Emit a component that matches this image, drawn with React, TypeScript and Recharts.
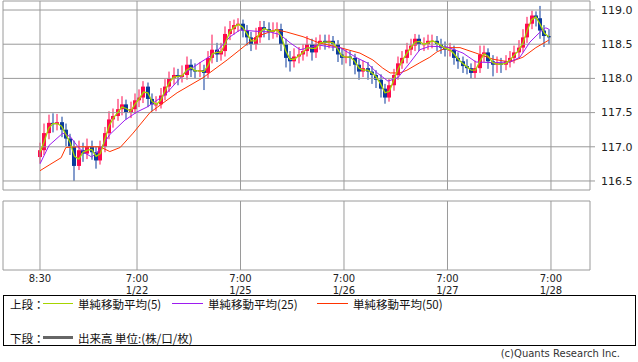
import { Bar, ComposedChart, Line, ReferenceArea, ReferenceLine, XAxis, YAxis } from 'recharts'

// hourly bars, hour 0 = 1/21 8:30
const opens = [
  116.85, 116.95, 117.2, 117.35, 117.33, 117.36, 117.25, 117.12, 117.0, 116.72,
  116.95, 116.9, 117.0, 116.92, 116.8, 117.0, 117.2, 117.4, 117.45, 117.55,
  117.62, 117.5, 117.55, 117.68, 117.72, 117.88, 117.7, 117.62, 117.62, 117.75,
  117.88, 118.0, 118.05, 118.02, 118.05, 118.2, 118.12, 118.1, 118.12, 118.08,
  118.3, 118.42, 118.35, 118.4, 118.65, 118.72, 118.78, 118.8, 118.7, 118.6,
  118.5, 118.6, 118.75, 118.72, 118.68, 118.7, 118.72, 118.5, 118.3, 118.25,
  118.32, 118.35, 118.4, 118.5, 118.38, 118.5, 118.55, 118.52, 118.55, 118.5,
  118.35, 118.3, 118.32, 118.3, 118.2, 118.1, 118.15, 118.1, 118.05, 117.98,
  117.85, 117.72, 117.9, 118.05, 118.22, 118.3, 118.42, 118.48, 118.58, 118.5,
  118.5, 118.55, 118.55, 118.5, 118.45, 118.42, 118.42, 118.3, 118.25, 118.18,
  118.15, 118.08, 118.15, 118.35, 118.38, 118.25, 118.2, 118.22, 118.2, 118.25,
  118.3, 118.38, 118.45, 118.6, 118.8, 118.92, 118.88, 118.7, 118.62,
]
const highs = [
  117.06, 117.34, 117.47, 117.49, 117.48, 117.44, 117.34, 117.19, 117.09, 117.09,
  117.06, 117.12, 117.09, 117.0, 117.09, 117.29, 117.52, 117.56, 117.7, 117.74,
  117.69, 117.66, 117.78, 117.84, 117.96, 117.94, 117.78, 117.74, 117.86, 117.99,
  118.1, 118.16, 118.14, 118.19, 118.32, 118.28, 118.22, 118.24, 118.2, 118.4,
  118.64, 118.52, 118.52, 118.76, 118.84, 118.86, 118.88, 118.86, 118.78, 118.68,
  118.74, 118.84, 118.84, 118.82, 118.82, 118.82, 118.8, 118.58, 118.4, 118.44,
  118.46, 118.5, 118.62, 118.58, 118.6, 118.64, 118.64, 118.64, 118.62, 118.56,
  118.44, 118.42, 118.4, 118.36, 118.28, 118.26, 118.24, 118.18, 118.12, 118.06,
  117.92, 117.99, 118.14, 118.32, 118.4, 118.52, 118.58, 118.65, 118.64, 118.6,
  118.64, 118.64, 118.62, 118.58, 118.54, 118.52, 118.48, 118.38, 118.32, 118.28,
  118.22, 118.26, 118.48, 118.48, 118.44, 118.34, 118.32, 118.3, 118.34, 118.4,
  118.48, 118.56, 118.72, 118.9, 118.99, 118.98, 119.06, 118.78, 118.72,
]
const lows = [
  116.76, 116.88, 117.11, 117.21, 117.24, 117.14, 117.01, 116.88, 116.5, 116.66,
  116.78, 116.82, 116.81, 116.68, 116.74, 116.92, 117.11, 117.28, 117.38, 117.46,
  117.4, 117.42, 117.48, 117.58, 117.64, 117.58, 117.52, 117.52, 117.56, 117.68,
  117.8, 117.91, 117.9, 117.94, 117.98, 118.02, 118.0, 118.02, 117.83, 118.0,
  118.22, 118.24, 118.26, 118.32, 118.56, 118.64, 118.68, 118.6, 118.48, 118.4,
  118.42, 118.52, 118.6, 118.56, 118.58, 118.6, 118.4, 118.16, 118.1, 118.16,
  118.22, 118.26, 118.32, 118.26, 118.3, 118.42, 118.42, 118.44, 118.4, 118.24,
  118.2, 118.22, 118.18, 118.06, 117.98, 118.02, 117.98, 117.92, 117.86, 117.72,
  117.63, 117.66, 117.82, 117.98, 118.14, 118.22, 118.34, 118.4, 118.4, 118.4,
  118.42, 118.44, 118.4, 118.36, 118.32, 118.32, 118.2, 118.14, 118.08, 118.06,
  118.0, 118.0, 118.08, 118.24, 118.14, 118.03, 118.08, 118.08, 118.12, 118.16,
  118.22, 118.3, 118.38, 118.52, 118.72, 118.76, 118.58, 118.46, 118.5,
]
const closes = [
  116.95, 117.2, 117.35, 117.33, 117.36, 117.25, 117.12, 117.0, 116.72, 116.95,
  116.9, 117.0, 116.92, 116.8, 117.0, 117.2, 117.4, 117.45, 117.55, 117.62,
  117.5, 117.55, 117.68, 117.72, 117.88, 117.7, 117.62, 117.62, 117.75, 117.88,
  118.0, 118.05, 118.02, 118.05, 118.2, 118.12, 118.1, 118.12, 118.08, 118.3,
  118.42, 118.35, 118.4, 118.65, 118.72, 118.78, 118.8, 118.7, 118.6, 118.5,
  118.6, 118.75, 118.72, 118.68, 118.7, 118.72, 118.5, 118.3, 118.25, 118.32,
  118.35, 118.4, 118.5, 118.38, 118.5, 118.55, 118.52, 118.55, 118.5, 118.35,
  118.3, 118.32, 118.3, 118.2, 118.1, 118.15, 118.1, 118.05, 117.98, 117.85,
  117.72, 117.9, 118.05, 118.22, 118.3, 118.42, 118.48, 118.58, 118.5, 118.5,
  118.55, 118.55, 118.5, 118.45, 118.42, 118.42, 118.3, 118.25, 118.18, 118.15,
  118.08, 118.15, 118.35, 118.38, 118.25, 118.2, 118.22, 118.2, 118.25, 118.3,
  118.38, 118.45, 118.6, 118.8, 118.92, 118.88, 118.7, 118.62, 118.6,
]
const sma5 = [
  116.92, 117.08, 117.27, 117.34, 117.34, 117.3, 117.18, 117.06, 116.86, 116.82,
  116.92, 116.95, 116.96, 116.86, 116.9, 117.1, 117.3, 117.42, 117.5, 117.58,
  117.56, 117.52, 117.62, 117.7, 117.8, 117.79, 117.66, 117.62, 117.68, 117.82,
  117.94, 118.02, 118.03, 118.04, 118.12, 118.16, 118.11, 118.11, 118.1, 118.19,
  118.36, 118.38, 118.38, 118.52, 118.68, 118.75, 118.79, 118.75, 118.65, 118.55,
  118.55, 118.67, 118.73, 118.7, 118.69, 118.71, 118.61, 118.4, 118.28, 118.28,
  118.33, 118.38, 118.45, 118.44, 118.44, 118.52, 118.53, 118.53, 118.52, 118.43,
  118.33, 118.31, 118.31, 118.25, 118.15, 118.12, 118.12, 118.08, 118.02, 117.92,
  117.79, 117.81, 117.97, 118.13, 118.26, 118.36, 118.45, 118.53, 118.54, 118.5,
  118.52, 118.55, 118.52, 118.48, 118.44, 118.42, 118.36, 118.28, 118.22, 118.17,
  118.12, 118.12, 118.25, 118.36, 118.32, 118.23, 118.21, 118.21, 118.22, 118.27,
  118.34, 118.41, 118.52, 118.7, 118.86, 118.9, 118.79, 118.66, 118.61,
]

const sma25Hours = [
  0, 2.1, 5.3, 7, 8.8, 10.4, 12, 13.9, 16.2, 19.7, 22.5, 24.8, 29, 33.6, 37.1, 40.6,
  44.1, 46.4, 49.9, 53.3, 55.7, 58, 60.3, 62.6, 64.5, 67.3, 69.6, 73.5, 75.8, 78.2,
  80.7, 83, 85.8, 88.1, 90.4, 94.4, 98.1, 101.1, 105.1, 109, 111.3, 113.6, 116, 117.3, 118,
]
const sma25Values = [
  116.75, 117.02, 117.2, 117.15, 117.0, 116.91, 116.85, 116.96, 117.18, 117.39, 117.51,
  117.58, 117.76, 118.08, 118.23, 118.37, 118.61, 118.71, 118.69, 118.68, 118.64, 118.52,
  118.42, 118.45, 118.49, 118.46, 118.45, 118.3, 118.23, 118.08, 117.96, 118.01, 118.23,
  118.42, 118.47, 118.46, 118.37, 118.24, 118.23, 118.24, 118.31, 118.53, 118.68, 118.74,
  118.72,
]
const sma50Hours = [
  0, 2.3, 4.9, 6, 9.3, 13.9, 16.2, 18.6, 21.6, 25.5, 31.8, 37.8, 43.4, 46.4, 50.1, 54.7,
  57.1, 61, 64.7, 69.6, 74.2, 77.2, 79.5, 81.2, 83.5, 85.1, 88.1, 90.4, 92.1, 94.4, 97.4,
  101.1, 105.1, 109, 112, 115, 118,
]
const sma50Values = [
  116.65, 116.74, 116.84, 116.99, 117.0, 117.0, 116.93, 116.99, 117.2, 117.5, 117.79,
  118.01, 118.27, 118.42, 118.61, 118.71, 118.68, 118.61, 118.52, 118.45, 118.37, 118.27,
  118.15, 118.08, 118.08, 118.12, 118.23, 118.31, 118.39, 118.45, 118.45, 118.37, 118.28,
  118.24, 118.31, 118.45, 118.56,
]

const dayTicks = [0, 22.5, 46.5, 70.5, 94.5, 118.5]
const timeLabels = ['8:30', '7:00', '7:00', '7:00', '7:00', '7:00']
const dateLabels = ['', '1/22', '1/25', '1/26', '1/27', '1/28']
const priceTicks = [116.5, 117.0, 117.5, 118.0, 118.5, 119.0]
// volume panel is empty in the source chart
const volumes = [0, 0, 0, 0, 0, 0]

const X_DOMAIN: [number, number] = [-8.58, 127.55]
const Y_DOMAIN: [number, number] = [116.368, 119.132]
const GRID = '#9a9a9a'
const UP = '#ff0a4e'
const DOWN = '#0a3a9c'
const BODY_W = 4

const bars = closes.map((c, i) => ({
  t: i,
  open: opens[i],
  high: highs[i],
  low: lows[i],
  close: c,
  range: [lows[i], highs[i]],
  sma5: sma5[i],
}))
const sma25Data = sma25Hours.map((t, i) => ({ t, v: sma25Values[i] }))
const sma50Data = sma50Hours.map((t, i) => ({ t, v: sma50Values[i] }))
const volData = dayTicks.map((t, i) => ({ t, vol: volumes[i] }))

const Candle = (props: any) => {
  const { x, y, width, height, payload } = props
  if (!payload || typeof y !== 'number') return null
  const top = Math.min(y, y + height)
  const h = Math.abs(height)
  const span = payload.high - payload.low || 1
  const k = h / span
  const bodyTop = top + (payload.high - Math.max(payload.open, payload.close)) * k
  const bodyH = Math.max(1, Math.abs(payload.open - payload.close) * k)
  const color = payload.close >= payload.open ? UP : DOWN
  const cx = Math.round(x + (width || 0) / 2)
  return (
    <g>
      <rect x={cx - 0.5} y={top} width={1} height={h} fill={color} />
      <rect x={cx - BODY_W / 2} y={bodyTop} width={BODY_W} height={bodyH} fill={color} />
    </g>
  )
}

const DayTick = (props: any) => {
  const { x, y, index } = props
  return (
    <g fontFamily="DejaVu Sans, sans-serif" fontSize={10} fill="#222">
      <text x={x} y={y + 12} textAnchor="middle">{timeLabels[index]}</text>
      <text x={x} y={y + 24} textAnchor="middle">{dateLabels[index]}</text>
    </g>
  )
}

const legendFont = '"Noto Sans CJK JP", sans-serif'

const App = () => {
  return (
    <div style={{ position: 'absolute', left: 0, top: 0, width: 638, height: 362, background: '#fff' }}>
      <div style={{ position: 'absolute', left: 0, top: 0 }}>
        <ComposedChart width={638} height={192} data={bars} margin={{ top: 1, right: 0, bottom: 2, left: 3 }}>
          <XAxis dataKey="t" type="number" domain={X_DOMAIN} allowDataOverflow hide ticks={dayTicks} />
          <YAxis
            orientation="right"
            type="number"
            domain={Y_DOMAIN}
            allowDataOverflow
            ticks={priceTicks}
            width={48}
            axisLine={false}
            tickLine={{ stroke: GRID }}
            tickSize={5}
            tickMargin={6}
            tickFormatter={(v: number) => v.toFixed(1)}
            tick={{ fontSize: 11, fill: '#222', fontFamily: 'DejaVu Sans, sans-serif' }}
          />
          <ReferenceArea x1={X_DOMAIN[0]} x2={X_DOMAIN[1]} y1={Y_DOMAIN[0]} y2={Y_DOMAIN[1]} fill="none" stroke={GRID} fillOpacity={0} />
          {priceTicks.map((p) => (
            <ReferenceLine key={'h' + p} y={p} stroke={GRID} />
          ))}
          {dayTicks.map((t) => (
            <ReferenceLine key={'v' + t} x={t} stroke={GRID} />
          ))}
          <Bar dataKey="range" barSize={4} shape={<Candle />} isAnimationActive={false} />
          <Line data={sma50Data} dataKey="v" type="linear" stroke="#ff3300" strokeWidth={1} dot={false} isAnimationActive={false} />
          <Line data={sma25Data} dataKey="v" type="linear" stroke="#9d1cf0" strokeWidth={1} dot={false} isAnimationActive={false} />
          <Line dataKey="sma5" type="linear" stroke="#a6d400" strokeWidth={1.3} dot={false} isAnimationActive={false} />
        </ComposedChart>
      </div>
      <div style={{ position: 'absolute', left: 0, top: 192 }}>
        <ComposedChart width={638} height={105} data={volData} margin={{ top: 9, right: 0, bottom: 0, left: 3 }}>
          <XAxis
            dataKey="t"
            type="number"
            domain={X_DOMAIN}
            allowDataOverflow
            ticks={dayTicks}
            height={27}
            axisLine={false}
            tickLine={false}
            tickSize={0}
            tickMargin={0}
            tick={<DayTick />}
            interval={0}
          />
          <YAxis orientation="right" type="number" domain={[0, 1]} allowDataOverflow width={48} tick={false} axisLine={false} tickLine={false} />
          <Line dataKey="vol" stroke="none" dot={false} isAnimationActive={false} />
          <ReferenceArea x1={X_DOMAIN[0]} x2={X_DOMAIN[1]} y1={0} y2={1} fill="none" stroke={GRID} fillOpacity={0} ifOverflow="visible" />
          {dayTicks.map((t) => (
            <ReferenceLine key={'lv' + t} x={t} stroke={GRID} ifOverflow="visible" />
          ))}
        </ComposedChart>
      </div>
      <div
        style={{
          position: 'absolute',
          left: 3,
          top: 295,
          width: 631,
          height: 49,
          border: '1px solid #000',
          fontFamily: legendFont,
          fontSize: 11.5,
          color: '#111',
        }}
      >
        <span style={{ position: 'absolute', left: 6, top: 0 }}>上段：</span>
        <div style={{ position: 'absolute', left: 39, top: 7, width: 30, height: 1, background: '#a6d400' }} />
        <span style={{ position: 'absolute', left: 74, top: 0 }}>単純移動平均(5)</span>
        <div style={{ position: 'absolute', left: 168, top: 7, width: 31, height: 1, background: '#9d1cf0' }} />
        <span style={{ position: 'absolute', left: 204, top: 0 }}>単純移動平均(25)</span>
        <div style={{ position: 'absolute', left: 313, top: 7, width: 31, height: 1, background: '#ff3300' }} />
        <span style={{ position: 'absolute', left: 349, top: 0 }}>単純移動平均(50)</span>
        <span style={{ position: 'absolute', left: 6, top: 34 }}>下段：</span>
        <div style={{ position: 'absolute', left: 39, top: 40, width: 30, height: 3, background: '#666' }} />
        <span style={{ position: 'absolute', left: 74, top: 34 }}>出来高 単位:(株/口/枚)</span>
      </div>
      <div
        style={{
          position: 'absolute',
          right: 18,
          top: 348,
          fontFamily: 'DejaVu Sans, sans-serif',
          fontSize: 10,
          color: '#333',
        }}
      >
        (c)Quants Research Inc.
      </div>
    </div>
  )
}

export default App
